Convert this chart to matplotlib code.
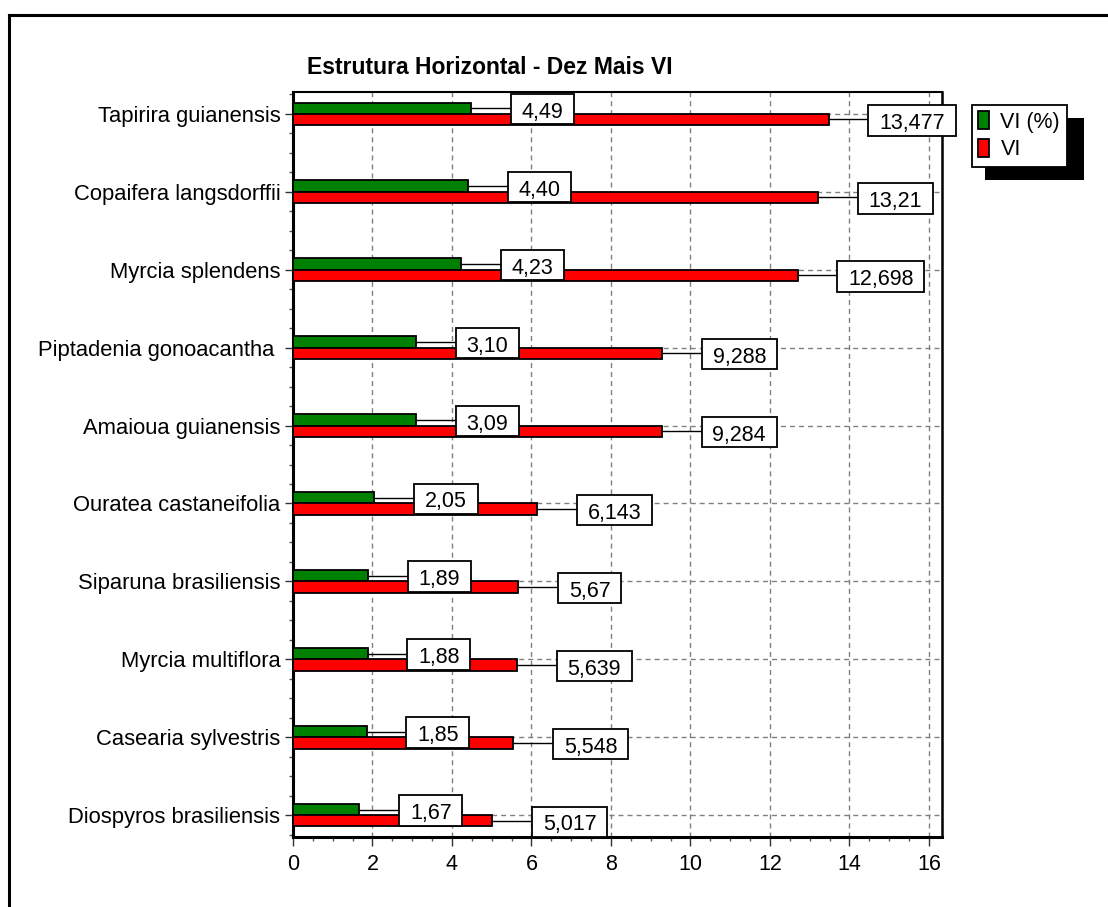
import matplotlib
matplotlib.use("Agg")
import matplotlib.pyplot as plt
from matplotlib.path import Path
from matplotlib.lines import Line2D
from matplotlib.patches import Rectangle
from matplotlib.ticker import MultipleLocator, FixedLocator
from matplotlib.transforms import IdentityTransform

plt.rcParams["font.family"] = ["Liberation Sans", "DejaVu Sans"]

# Ten species with the highest importance value (VI)
species = [
    "Tapirira guianensis",
    "Copaifera langsdorffii",
    "Myrcia splendens",
    "Piptadenia gonoacantha ",
    "Amaioua guianensis",
    "Ouratea castaneifolia",
    "Siparuna brasiliensis",
    "Myrcia multiflora",
    "Casearia sylvestris",
    "Diospyros brasiliensis",
]
vi_pct = [4.49, 4.40, 4.23, 3.10, 3.09, 2.05, 1.89, 1.88, 1.85, 1.67]
vi = [13.477, 13.21, 12.698, 9.288, 9.284, 6.143, 5.67, 5.639, 5.548, 5.017]
x_ticks = [0, 2, 4, 6, 8, 10, 12, 14, 16]

W, H, DPI = 1108, 907, 100
FS = 15.5
GREEN = "#008000"
RED = "#ff0000"

fig = plt.figure(figsize=(W / DPI, H / DPI), dpi=DPI)
ax = fig.add_axes([293 / W, 1 - 837 / H, (942 - 293) / W, (837 - 92) / H])

bar_h = 0.145
pos = list(range(len(species)))
green_y = [p - bar_h / 2 for p in pos]
red_y = [p + bar_h / 2 for p in pos]

ax.barh(green_y, vi_pct, height=bar_h, color=GREEN, edgecolor="black",
        linewidth=1.3, zorder=3, label="VI (%)")
ax.barh(red_y, vi, height=bar_h, color=RED, edgecolor="black",
        linewidth=1.3, zorder=3, label="VI")


def label_box(x0, y0, width, height, mutation_size):
    """Rectangle with wide side padding and a deeper top margin."""
    px = 0.5 * mutation_size
    pt = 0.37 * mutation_size
    pb = 0.07 * mutation_size
    verts = [(x0 - px, y0 - pb), (x0 + width + px, y0 - pb),
             (x0 + width + px, y0 + height + pt), (x0 - px, y0 + height + pt),
             (x0 - px, y0 - pb)]
    return Path(verts, closed=True)


def fmt_pct(v):
    return f"{v:.2f}".replace(".", ",")


def fmt_vi(v):
    return f"{v:g}".replace(".", ",")


gap = 1.0  # distance in data units between bar end and its label
for vals, ys, fmt in ((vi_pct, green_y, fmt_pct), (vi, red_y, fmt_vi)):
    for v, y in zip(vals, ys):
        ax.plot([v, v + gap], [y, y], color="black", lw=1.0, zorder=4,
                solid_capstyle="butt", clip_on=False)
        ax.annotate(fmt(v), xy=(v + gap, y), xytext=(0.5 * FS, -3.0),
                    textcoords="offset points", ha="left", va="center",
                    fontsize=FS, zorder=5, annotation_clip=False,
                    bbox=dict(boxstyle=label_box, fc="white", ec="black", lw=1.3))

ax.set_xlim(0, 16.33)
ax.set_ylim(9.28, -0.28)
ax.xaxis.set_major_locator(FixedLocator(x_ticks))
ax.xaxis.set_minor_locator(MultipleLocator(0.5))
ax.set_yticks(pos, labels=species)
ax.yaxis.set_minor_locator(MultipleLocator(0.25))

ax.tick_params(axis="both", which="major", labelsize=FS, colors="#333333",
               labelcolor="black", width=1.0)
ax.tick_params(axis="x", which="major", length=6.5, pad=6)
ax.tick_params(axis="y", which="major", length=6.0, pad=3)
ax.tick_params(axis="both", which="minor", length=3.0, width=1.0,
               colors="#555555")
for lbl in ax.get_yticklabels():
    lbl.set_fontsize(15.8)

ax.grid(True, which="major", color="#808080", linestyle=(0, (3.6, 2.9)),
        linewidth=1.0)
ax.set_axisbelow(True)

for side, lw in (("left", 2.2), ("bottom", 2.2), ("right", 1.8), ("top", 1.5)):
    ax.spines[side].set_linewidth(lw)
    ax.spines[side].set_color("black")

fig.text(307 / W, 1 - 68 / H, "Estrutura Horizontal - Dez Mais VI",
         ha="left", va="center", fontsize=16.5, fontweight="bold")

leg = fig.legend(loc="upper left", bbox_to_anchor=(972 / W, 1 - 105 / H),
                 bbox_transform=fig.transFigure, borderaxespad=0,
                 fontsize=FS, fancybox=False, frameon=True, framealpha=1,
                 edgecolor="black", handlelength=0.47, handleheight=0.88,
                 handletextpad=0.55, borderpad=0.3, labelspacing=0.3)
leg.get_frame().set_linewidth(1.3)
leg.set_zorder(10)

# Outer page frame (top and left edges)
frame_kw = dict(color="black", lw=2.2, transform=IdentityTransform(),
                solid_capstyle="projecting")
fig.add_artist(Line2D([9, 9], [-20, H - 15], **frame_kw))
fig.add_artist(Line2D([9, W + 20], [H - 15, H - 15], **frame_kw))

# Drop shadow behind the legend box
fig.canvas.draw()
bb = leg.get_window_extent()
fig.add_artist(Rectangle((bb.x0 + 13, bb.y0 - 13), bb.width + 4, bb.height,
                         facecolor="black", edgecolor="none",
                         transform=IdentityTransform(), zorder=9))

fig.savefig("out.png", dpi=DPI)
